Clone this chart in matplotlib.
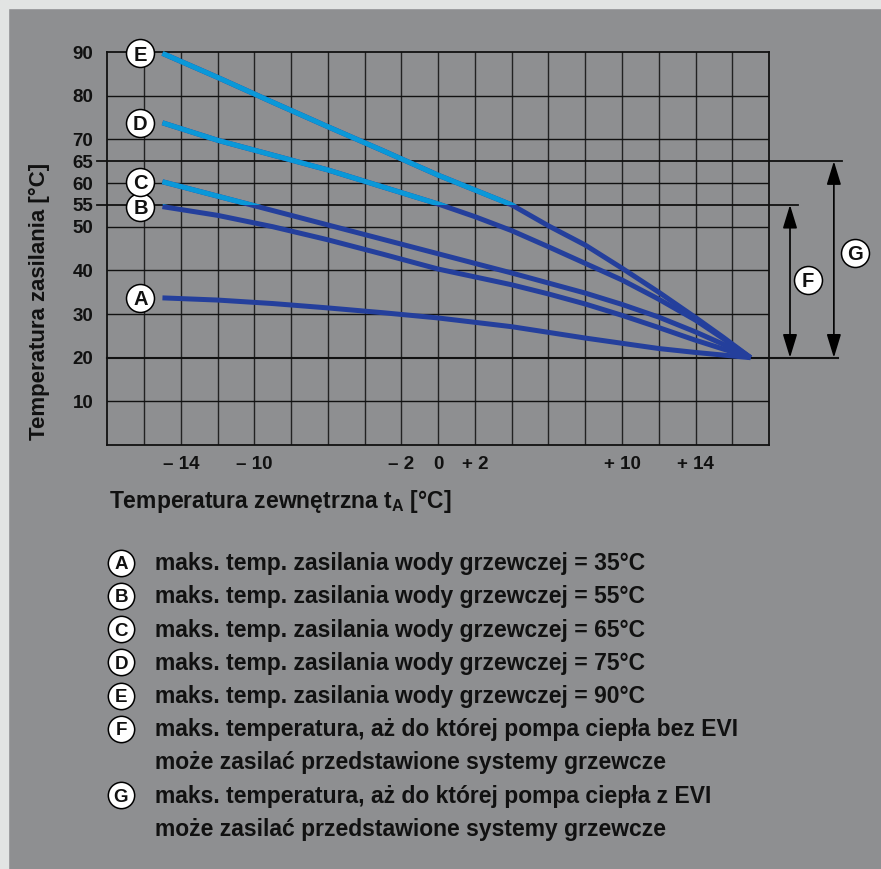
import numpy as np
import matplotlib.pyplot as plt
from matplotlib.patches import Rectangle

plt.rcParams['font.family'] = ['Liberation Sans', 'DejaVu Sans']
plt.rcParams['font.weight'] = 'bold'
plt.rcParams['mathtext.fontset'] = 'custom'
plt.rcParams['mathtext.rm'] = 'Liberation Sans:bold'
plt.rcParams['mathtext.it'] = 'Liberation Sans:bold'
plt.rcParams['mathtext.bf'] = 'Liberation Sans:bold'

# outdoor temperature (x) and flow temperature of each heating curve (y)
t_out = [-15, -12, -9, -6, -3, 0, 2, 4, 6, 8, 10, 12, 14, 15.5, 17]
curve_a = [33.7, 33.2, 32.4, 31.4, 30.3, 29.1, 28.1, 27.1, 25.8, 24.5, 23.3, 22.1, 21.2, 20.6, 20.0]
curve_b = [54.6, 52.6, 50.0, 47.0, 43.7, 40.3, 38.5, 36.7, 34.6, 32.3, 29.7, 26.9, 24.0, 22.0, 20.0]
curve_c = [60.3, 57.0, 53.7, 50.4, 47.1, 43.8, 41.6, 39.4, 37.1, 34.8, 32.2, 29.3, 25.9, 23.1, 20.0]
curve_d = [73.8, 69.8, 66.4, 63.0, 59.1, 55.2, 52.3, 49.1, 45.4, 41.6, 37.8, 33.4, 28.6, 24.4, 20.0]
curve_e = [89.7, 84.2, 78.5, 72.9, 67.4, 61.8, 58.4, 55.0, 50.2, 45.8, 40.5, 35.0, 29.2, 24.7, 20.0]
curve_names = ['A', 'B', 'C', 'D', 'E']

limit_no_evi = 55   # F
limit_evi = 65      # G
base_temp = 20

xtick_vals = [-14, -10, -2, 0, 2, 10, 14]
xtick_labels = ['– 14', '– 10', '– 2', '0', '+ 2', '+ 10', '+ 14']
ytick_vals = [10, 20, 30, 40, 50, 55, 60, 65, 70, 80, 90]

legend_rows = [
    ('A', ['maks. temp. zasilania wody grzewczej = 35°C']),
    ('B', ['maks. temp. zasilania wody grzewczej = 55°C']),
    ('C', ['maks. temp. zasilania wody grzewczej = 65°C']),
    ('D', ['maks. temp. zasilania wody grzewczej = 75°C']),
    ('E', ['maks. temp. zasilania wody grzewczej = 90°C']),
    ('F', ['maks. temperatura, aż do której pompa ciepła bez EVI',
           'może zasilać przedstawione systemy grzewcze']),
    ('G', ['maks. temperatura, aż do której pompa ciepła z EVI',
           'może zasilać przedstawione systemy grzewcze']),
]

panel = '#8e8f91'
dark_blue = '#243f9c'
light_blue = '#0a98d8'
ink = '#111111'

fig = plt.figure(figsize=(8.81, 8.69), dpi=100, facecolor=panel)
# light frame on the top and left edge
fig.patches.append(Rectangle((0, 1 - 8 / 869), 1, 8 / 869, transform=fig.transFigure,
                             color='#e2e4e3', zorder=0))
fig.patches.append(Rectangle((0, 0), 8 / 881, 1, transform=fig.transFigure,
                             color='#e2e4e3', zorder=0))

ax = fig.add_axes([0.1218, 0.4879, 0.7511, 0.4522])
ax.set_facecolor(panel)
ax.set_xlim(-18, 18)
ax.set_ylim(0, 90)

#grid
for x in np.arange(-16, 17, 2):
    ax.axvline(x, color='#222222', lw=1.0, zorder=1)
for y in [10, 30, 40, 50, 60, 70, 80]:
    ax.axhline(y, color=ink, lw=1.0, zorder=1)

# longer lines for 20 / 55 / 65
yt = ax.get_yaxis_transform()
ax.plot([0, 1.104], [base_temp, base_temp], transform=yt, color=ink, lw=1.5, clip_on=False, zorder=1)
ax.plot([-0.0156, 1.0438], [limit_no_evi, limit_no_evi], transform=yt, color=ink, lw=1.3,
        clip_on=False, zorder=1)
ax.plot([-0.0156, 1.110], [limit_evi, limit_evi], transform=yt, color=ink, lw=1.3,
        clip_on=False, zorder=1)

for sp in ax.spines.values():
    sp.set_linewidth(1.3)
    sp.set_color(ink)

# heating curves, light blue above 55 degC
curves = [curve_a, curve_b, curve_c, curve_d, curve_e]
for name, vals in zip(curve_names, curves):
    ax.plot(t_out, vals, color=dark_blue, lw=3.6, solid_capstyle='butt',
            solid_joinstyle='round', zorder=3)
    upper, = ax.plot(t_out, vals, color=light_blue, lw=3.6, solid_capstyle='butt',
                     solid_joinstyle='round', zorder=4)
    clip = Rectangle((-20, limit_no_evi), 40, 50, transform=ax.transData)
    upper.set_clip_path(clip)
    # circled letter at the start of each curve
    lx, ly = t_out[0] - 1.2, vals[0]
    ax.scatter([lx], [ly], s=406, facecolor='white', edgecolor='black', linewidth=1.1,
               zorder=6, clip_on=False)
    ax.text(lx, ly, name, ha='center', va='center_baseline', fontsize=14.5, color=ink, zorder=7)

# arrows F and G
arrow = dict(arrowstyle='<|-|>,head_length=0.72,head_width=0.22', color='black', lw=1.2,
             shrinkA=0, shrinkB=0, mutation_scale=20)
ax.annotate('', xy=(1.0317, base_temp), xytext=(1.0317, limit_no_evi), xycoords=yt,
            textcoords=yt, arrowprops=arrow, annotation_clip=False)
ax.annotate('', xy=(1.098, base_temp), xytext=(1.098, limit_evi), xycoords=yt,
            textcoords=yt, arrowprops=arrow, annotation_clip=False)
for name, xx, yy in [('F', 1.059, 37.8), ('G', 1.130, 44.0)]:
    ax.scatter([xx], [yy], s=406, facecolor='white', edgecolor='black', linewidth=1.1,
               transform=yt, zorder=6, clip_on=False)
    ax.text(xx, yy, name, transform=yt, ha='center', va='center_baseline', fontsize=14.5,
            color=ink, zorder=7)

# ticks
ax.set_xticks(xtick_vals, xtick_labels)
ax.set_yticks(ytick_vals, [str(v) for v in ytick_vals])
ax.tick_params(axis='x', length=0, pad=8, labelsize=13.5, labelcolor=ink)
ax.tick_params(axis='y', length=0, pad=10, labelsize=13.5, labelcolor=ink)

# axis titles
ax.text(-0.1032, 0.366, 'Temperatura zasilania [°C]', transform=ax.transAxes, rotation=90,
        ha='center', va='center', fontsize=16, color=ink)
ax.text(0.0026, -0.160, 'Temperatura zewnętrzna t$_\\mathregular{A}$ [°C]',
        transform=ax.transAxes, ha='left', va='baseline', fontsize=16.5, color=ink)

# legend block below the chart, in pixel coordinates
lay = fig.add_axes([0, 0, 1, 1], zorder=-1)
lay.set_xlim(0, 881)
lay.set_ylim(869, 0)
lay.axis('off')
row_y = 562.7
for name, lines in legend_rows:
    lay.scatter([121], [row_y], s=360, facecolor='white', edgecolor='black', linewidth=1.1)
    lay.text(121, row_y, name, ha='center', va='center_baseline', fontsize=13.5, color=ink)
    for line in lines:
        lay.text(155, row_y + 7.5, line, ha='left', va='baseline', fontsize=16.5, color=ink)
        row_y += 33.2

fig.savefig('out.png', dpi=100, facecolor=panel)
